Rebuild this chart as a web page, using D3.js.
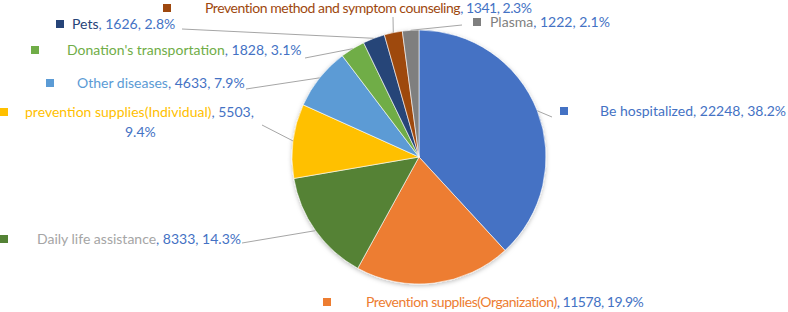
<!DOCTYPE html>
<html>
<head>
<meta charset="utf-8">
<script src="https://cdn.jsdelivr.net/npm/d3@7"></script>
<style>
  html, body { margin: 0; padding: 0; background: #fff; }
  svg { display: block; font-family: Lato, "Open Sans", sans-serif; }
</style>
</head>
<body>
<svg id="chart" width="788" height="312"></svg>
<script>
// DATA
const categories = [
    "Be hospitalized",
    "Prevention supplies(Organization)",
    "Daily life assistance",
    "prevention supplies(Individual)",
    "Other diseases",
    "Donation's transportation",
    "Pets",
    "Prevention method and symptom counseling",
    "Plasma"
]
const counts = [22248, 11578, 8333, 5503, 4633, 1828, 1626, 1341, 1222]
const percentLabels = ["38.2%", "19.9%", "14.3%", "9.4%", "7.9%", "3.1%", "2.8%", "2.3%", "2.1%"]

// STYLE
const sliceColors = ["#4472C4", "#ED7D31", "#548235", "#FFC000", "#5B9BD5", "#70AD47", "#264478", "#9E480E", "#7F7F7F"]
const nameColors = ["#4472C4", "#ED7D31", "#A5A5A5", "#FFC000", "#5B9BD5", "#70AD47", "#264478", "#9E480E", "#7F7F7F"]
const valueColor = "#4472C4"

// LABEL LAYOUT (marker x, label centre y, text x, leader start or null)
const labelLayout = [
    {mx: 560, cy: 111, tx: 600, lead: [552, 117]},
    {mx: 323, cy: 302, tx: 366, lead: null, spacing: -0.45},
    {mx: 0,   cy: 239, tx: 37,  lead: [242, 243]},
    {mx: 0,   cy: 112, tx: 25,  lead: [262, 125], wrap: 125},
    {mx: 46,  cy: 83,  tx: 77,  lead: [246, 89]},
    {mx: 31,  cy: 50,  tx: 67,  lead: [305, 58]},
    {mx: 56,  cy: 24,  tx: 72,  lead: [182, 29]},
    {mx: 163, cy: 8,   tx: 205, lead: [393, 17], spacing: -0.45},
    {mx: 473, cy: 22,  tx: 490, lead: [462, 25]}
]

let svg = d3.select('#chart')
let cx = 419, cy = 157, radius = 127
let fontSize = 14

let defs = svg.append('defs')
let shadow = defs.append('filter').attr('id', 'pie-shadow')
    .attr('x', '-20%').attr('y', '-20%').attr('width', '140%').attr('height', '140%')
shadow.append('feDropShadow')
    .attr('dx', 0).attr('dy', 1.5).attr('stdDeviation', 2)
    .attr('flood-color', '#000').attr('flood-opacity', 0.25)

let pieData = d3.pie().sort(null).value(d => d.value)(
    categories.map((c, i) => ({name: c, value: counts[i], idx: i}))
)
let arc = d3.arc().innerRadius(0).outerRadius(radius)

let pieG = svg.append('g')
    .attr('transform', `translate(${cx},${cy})`)
    .attr('filter', 'url(#pie-shadow)')

pieG.selectAll('.slice')
    .data(pieData)
    .enter()
    .append('path')
        .classed('slice', true)
        .attr('d', arc)
        .attr('fill', d => sliceColors[d.data.idx])
        .attr('stroke', '#fff')
        .attr('stroke-width', 0.6)

// LEADER LINES
pieData.forEach(d => {
    let lay = labelLayout[d.data.idx]
    if (!lay.lead) return
    let mid = (d.startAngle + d.endAngle) / 2
    let ex = cx + radius * Math.sin(mid)
    let ey = cy - radius * Math.cos(mid)
    svg.append('path')
        .attr('d', `M${lay.lead[0]},${lay.lead[1]} L${ex},${ey}`)
        .attr('fill', 'none')
        .attr('stroke', '#A6A6A6')
        .attr('stroke-width', 1)
})

// LABELS
pieData.forEach(d => {
    let i = d.data.idx
    let lay = labelLayout[i]
    svg.append('rect')
        .attr('x', lay.mx)
        .attr('y', lay.cy - 4)
        .attr('width', 8)
        .attr('height', 8)
        .attr('fill', sliceColors[i])

    let txt = svg.append('text')
        .attr('x', lay.tx)
        .attr('y', lay.cy + 5)
        .attr('font-size', fontSize)
        .attr('letter-spacing', lay.spacing || 0)
    txt.append('tspan').attr('fill', nameColors[i]).text(categories[i])
    if (lay.wrap) {
        txt.append('tspan').attr('fill', valueColor).text(`, ${counts[i]},`)
        svg.append('text')
            .attr('x', lay.wrap)
            .attr('y', lay.cy + 5 + 20)
            .attr('font-size', fontSize)
            .attr('fill', valueColor)
            .text(percentLabels[i])
    } else {
        txt.append('tspan').attr('fill', valueColor).text(`, ${counts[i]}, ${percentLabels[i]}`)
    }
})
</script>
</body>
</html>
